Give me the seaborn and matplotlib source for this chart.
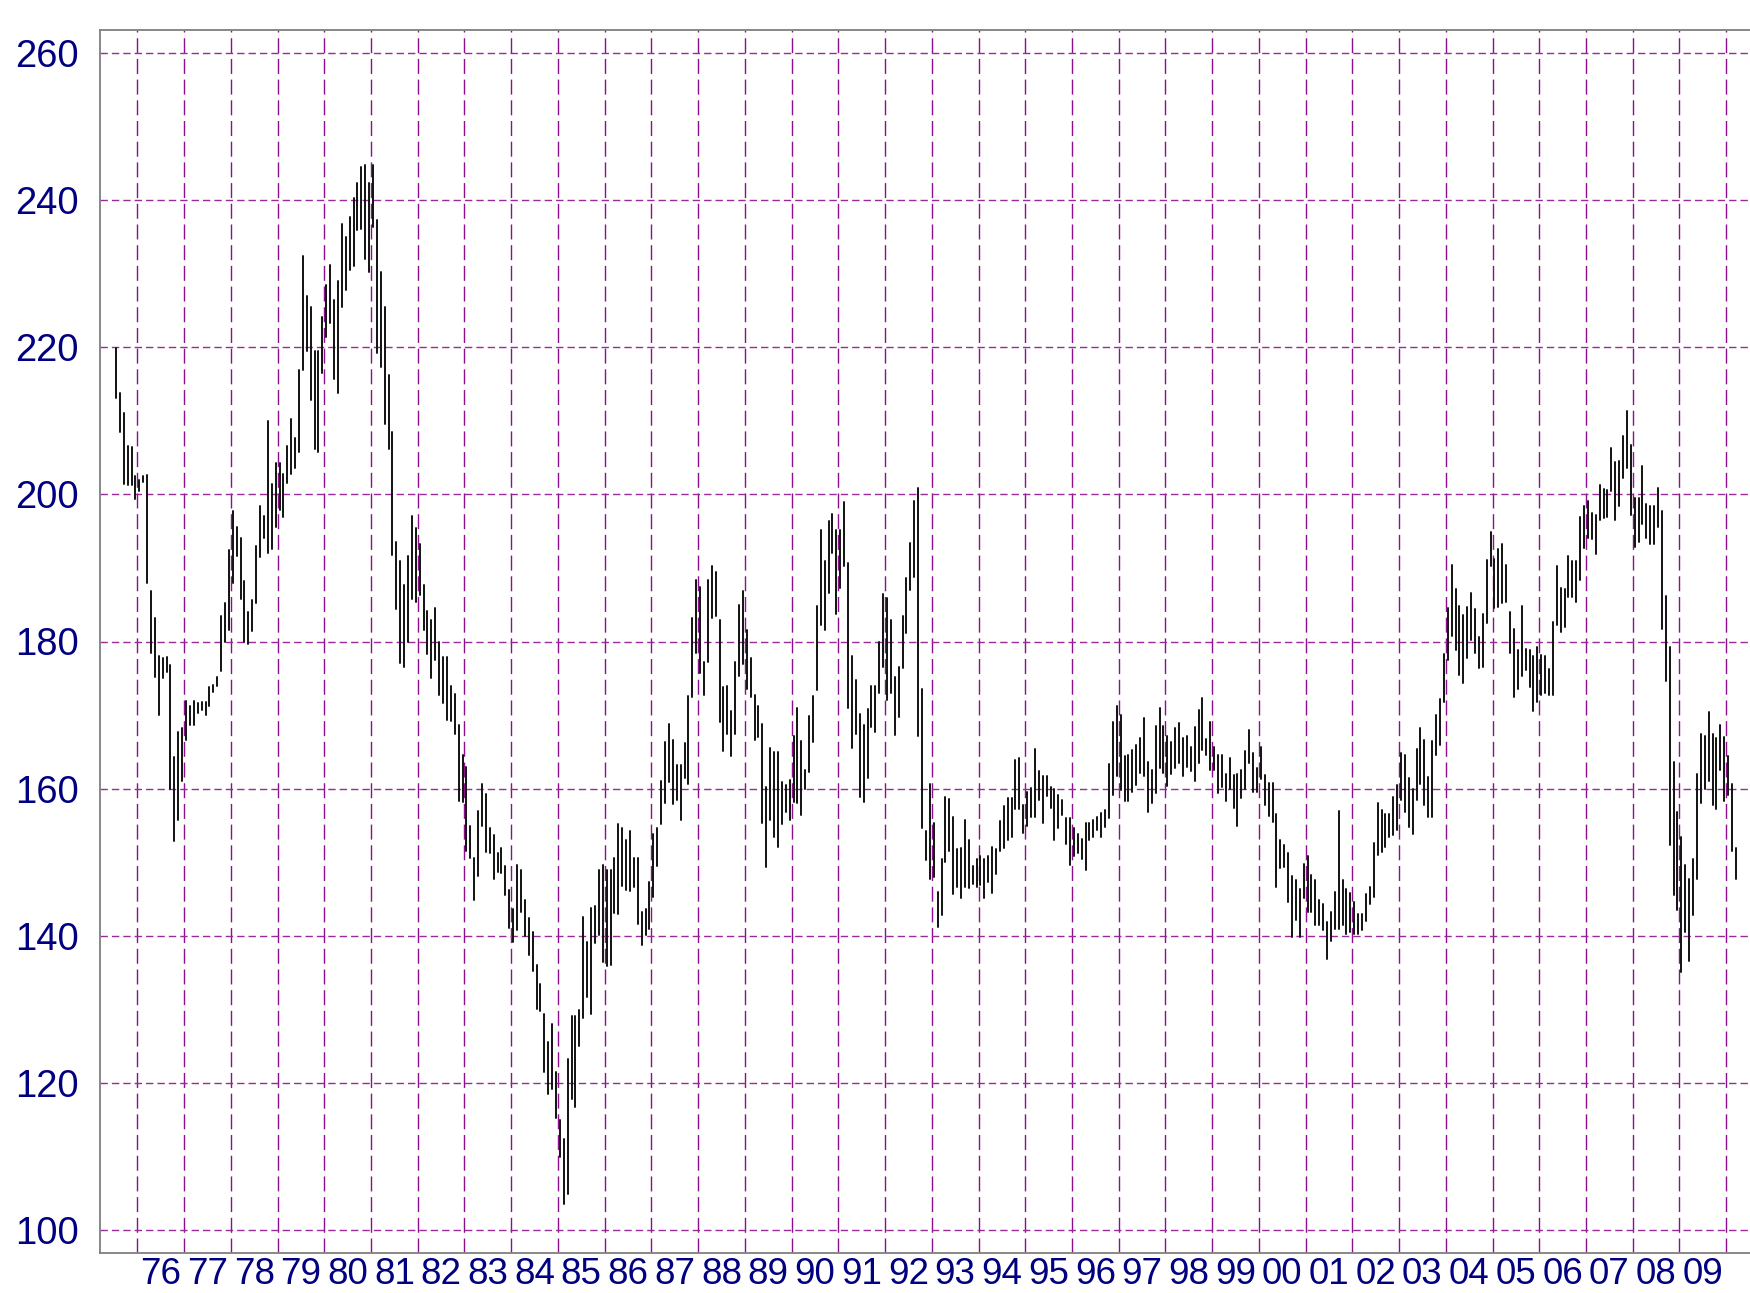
import pandas as pd
import matplotlib
matplotlib.use("Agg")
import matplotlib.pyplot as plt
import seaborn as sns

# monthly high / low bars, first bar is July 1975
start_month = "1975-07"

high = [
    219.8, 213.7, 211.1, 206.6, 206.4, 202.5,  # 1975 (Jul-Dec)
    201.9, 202.5, 202.6, 186.8, 183.2, 178.0, 177.8, 177.9, 176.8, 164.3, 167.7, 168.2,  # 1976
    171.9, 171.2, 171.9, 171.6, 171.8, 171.8, 173.8, 174.1, 175.2, 183.5, 185.2, 192.4,  # 1977
    197.7, 195.5, 194.0, 188.2, 184.0, 185.7, 193.0, 198.4, 197.1, 209.9, 201.4, 204.3,  # 1978
    204.3, 202.7, 206.5, 210.2, 207.6, 216.9, 232.4, 226.9, 225.5, 219.4, 219.4, 224.1,  # 1979
    228.4, 231.1, 226.4, 229.0, 236.7, 235.0, 237.7, 240.2, 242.3, 244.5, 244.7, 242.3,  # 1980
    244.7, 237.3, 230.2, 225.4, 216.2, 208.5, 193.5, 190.9, 187.7, 191.6, 197.0, 195.4,  # 1981
    193.3, 187.7, 184.2, 182.9, 184.6, 180.0, 177.9, 177.9, 174.0, 172.9, 168.7, 164.6,  # 1982
    163.0, 155.0, 150.6, 157.0, 160.7, 159.3, 154.7, 153.7, 151.3, 152.0, 149.5, 146.2,  # 1983
    143.6, 149.6, 148.9, 144.9, 142.5, 140.6, 136.0, 133.5, 129.4, 125.6, 128.1, 121.5,  # 1984
    115.0, 112.4, 123.3, 129.1, 129.1, 130.0, 142.6, 139.2, 143.8, 144.1, 149.0, 149.7,  # 1985
    149.0, 149.0, 150.6, 155.2, 154.6, 153.0, 154.2, 150.6, 150.6, 143.2, 143.7, 147.4,  # 1986
    153.9, 154.6, 161.1, 166.3, 168.8, 166.6, 163.2, 163.2, 166.2, 172.6, 183.2, 188.3,  # 1987
    187.4, 177.2, 188.3, 190.3, 189.4, 182.9, 173.8, 174.0, 170.6, 177.2, 184.9, 186.8,  # 1988
    181.6, 177.7, 172.7, 171.2, 168.8, 160.2, 165.6, 165.0, 165.0, 160.9, 160.5, 161.2,  # 1989
    167.1, 170.9, 166.5, 162.6, 169.9, 172.6, 184.8, 195.1, 190.9, 196.3, 197.3, 195.2,  # 1990
    195.2, 198.9, 190.6, 178.0, 174.8, 170.2, 168.7, 170.8, 174.0, 173.9, 180.0, 186.4,  # 1991
    185.9, 182.9, 175.2, 176.6, 183.5, 188.6, 193.4, 199.1, 200.8, 173.6, 154.2, 160.7,  # 1992
    155.3, 146.0, 150.5, 158.9, 158.6, 156.2, 151.8, 151.9, 155.8, 153.0, 149.5, 150.5,  # 1993
    150.8, 150.5, 150.8, 152.1, 151.8, 155.6, 157.6, 158.7, 158.7, 163.9, 164.2, 157.8,  # 1994
    159.5, 160.1, 165.4, 162.4, 161.7, 161.7, 160.3, 159.9, 159.2, 158.5, 156.0, 156.0,  # 1995
    154.7, 153.8, 153.2, 155.3, 155.4, 155.8, 156.2, 156.7, 157.1, 163.3, 169.1, 171.3,  # 1996
    170.0, 164.5, 164.6, 165.3, 166.0, 166.9, 169.6, 163.7, 162.6, 168.5, 170.9, 168.5,  # 1997
    167.1, 166.4, 168.2, 168.9, 166.9, 167.1, 165.7, 168.4, 170.7, 172.3, 166.7, 169.1,  # 1998
    165.7, 164.6, 164.6, 162.0, 164.2, 161.8, 162.0, 162.6, 165.1, 168.0, 164.8, 162.8,  # 1999
    165.7, 161.9, 160.8, 160.8, 156.6, 153.1, 152.3, 151.3, 148.1, 147.6, 146.4, 149.8,  # 2000
    150.8, 148.3, 147.6, 144.9, 144.4, 141.9, 143.3, 146.0, 157.0, 147.6, 146.4, 145.8,  # 2001
    144.6, 143.0, 143.0, 145.7, 146.7, 152.6, 158.0, 157.1, 156.6, 156.6, 158.9, 160.5,  # 2002
    164.8, 164.6, 161.4, 159.9, 165.4, 168.3, 166.6, 161.6, 166.5, 170.0, 172.2, 178.3,  # 2003
    184.5, 190.4, 187.1, 184.8, 183.6, 184.7, 186.6, 184.4, 180.6, 183.8, 191.1, 194.9,  # 2004
    191.2, 192.5, 193.2, 190.4, 184.0, 181.7, 178.9, 184.8, 179.0, 178.9, 178.0, 179.3,  # 2005
    178.1, 178.0, 176.3, 182.6, 190.3, 187.3, 187.1, 191.6, 190.9, 191.0, 196.9, 198.4,  # 2006
    199.1, 197.5, 197.2, 201.2, 200.7, 200.6, 206.3, 204.4, 204.5, 207.9, 211.3, 206.7,  # 2007
    199.5, 199.5, 203.9, 198.7, 198.4, 198.4, 200.8, 197.7, 186.2, 179.2, 163.6, 156.8,  # 2008
    153.5, 149.7, 147.7, 150.5, 162.0, 167.4, 167.2, 170.4, 167.4, 166.9, 168.7, 167.0,  # 2009
    164.4, 160.6, 152.0,  # 2010 (Jan-Mar)
]

low = [
    213.1, 208.5, 201.4, 201.3, 201.3, 199.3,  # 1975
    200.5, 201.7, 187.9, 178.5, 175.2, 170.0, 175.0, 175.9, 160.0, 152.9, 155.7, 161.1,  # 1976
    166.6, 168.7, 168.7, 170.3, 170.7, 170.0, 171.2, 173.2, 173.9, 176.0, 179.9, 181.6,  # 1977
    187.9, 191.6, 185.8, 179.9, 179.6, 181.4, 185.2, 191.5, 194.0, 192.0, 192.5, 195.5,  # 1978
    197.8, 196.9, 201.5, 202.8, 203.5, 205.8, 216.9, 219.4, 212.8, 206.2, 205.8, 216.5,  # 1979
    221.4, 223.2, 215.7, 213.8, 225.5, 227.8, 230.5, 231.0, 235.9, 236.0, 232.0, 230.2,  # 1980
    236.3, 219.2, 217.3, 209.5, 206.2, 191.7, 184.4, 177.1, 176.5, 180.0, 185.8, 185.4,  # 1981
    186.3, 181.5, 178.3, 175.1, 177.5, 172.7, 171.6, 169.4, 169.2, 167.5, 158.3, 158.2,  # 1982
    151.6, 150.6, 144.9, 148.2, 155.0, 151.4, 151.3, 147.7, 148.7, 148.6, 145.5, 141.1,  # 1983
    139.2, 140.8, 143.3, 140.0, 137.4, 135.2, 130.1, 129.8, 121.5, 118.5, 119.2, 115.3,  # 1984
    110.0, 103.6, 105.0, 117.9, 116.8, 125.1, 128.8, 131.7, 129.4, 139.0, 140.2, 136.5,  # 1985
    135.9, 136.0, 143.1, 143.0, 146.8, 146.2, 146.1, 146.7, 141.6, 138.8, 140.2, 141.0,  # 1986
    145.3, 149.5, 155.2, 158.1, 160.9, 157.9, 158.5, 155.8, 161.4, 160.6, 172.4, 178.4,  # 1987
    175.7, 172.7, 177.2, 183.2, 183.5, 169.0, 165.1, 167.4, 164.5, 167.5, 175.3, 176.9,  # 1988
    173.6, 172.4, 166.6, 167.0, 155.4, 149.4, 155.7, 153.4, 152.1, 155.2, 156.9, 155.7,  # 1989
    158.2, 158.0, 156.4, 160.0, 162.3, 166.4, 173.4, 182.2, 181.5, 186.6, 192.0, 183.8,  # 1990
    187.2, 190.2, 170.9, 165.5, 167.5, 158.9, 158.2, 161.5, 168.4, 167.7, 173.0, 176.6,  # 1991
    172.1, 173.0, 167.3, 169.8, 176.4, 181.1, 187.0, 188.8, 167.2, 154.7, 150.3, 147.8,  # 1992
    148.0, 141.2, 142.8, 150.0, 151.6, 145.7, 146.6, 145.2, 146.7, 146.5, 147.1, 146.7,  # 1993
    146.9, 145.2, 147.3, 145.8, 148.4, 151.5, 151.9, 153.1, 153.5, 157.3, 157.2, 154.0,  # 1994
    154.9, 156.2, 156.2, 158.5, 155.3, 159.0, 157.4, 153.1, 154.7, 156.5, 152.5, 149.7,  # 1995
    150.9, 151.3, 150.4, 149.0, 153.0, 153.5, 154.4, 153.4, 154.8, 156.0, 159.2, 161.7,  # 1996
    159.8, 158.4, 158.3, 159.5, 160.5, 162.1, 161.7, 156.9, 158.0, 159.4, 162.8, 162.1,  # 1997
    160.4, 162.0, 162.8, 163.5, 161.7, 163.0, 162.4, 161.0, 163.5, 165.3, 164.6, 162.6,  # 1998
    162.6, 159.4, 160.3, 158.4, 160.0, 157.4, 154.9, 158.8, 160.0, 163.5, 159.6, 159.6,  # 1999
    161.3, 157.8, 156.3, 155.5, 146.7, 149.2, 149.4, 144.6, 139.9, 142.2, 139.9, 145.1,  # 2000
    143.3, 143.3, 141.5, 141.5, 140.8, 136.9, 139.3, 141.0, 141.0, 141.5, 140.3, 140.5,  # 2001
    140.3, 140.3, 140.8, 142.0, 144.4, 145.3, 151.0, 151.4, 152.1, 153.5, 153.7, 154.4,  # 2002
    158.5, 156.9, 154.8, 153.9, 158.5, 160.7, 157.8, 156.2, 156.2, 164.6, 165.9, 171.8,  # 2003
    177.5, 180.8, 178.9, 175.5, 174.4, 177.7, 180.2, 178.4, 176.4, 176.6, 182.5, 190.2,  # 2004
    184.6, 184.7, 185.2, 185.3, 178.5, 172.4, 173.5, 175.3, 176.1, 173.8, 170.6, 171.8,  # 2005
    172.7, 173.0, 172.8, 172.7, 182.3, 181.3, 182.0, 186.0, 186.0, 185.3, 188.4, 192.7,  # 2006
    194.1, 193.9, 191.9, 196.5, 196.8, 196.9, 200.5, 196.5, 198.4, 202.2, 203.5, 197.2,  # 2007
    192.8, 193.5, 196.0, 194.1, 193.3, 193.3, 195.5, 181.7, 174.6, 152.4, 145.5, 143.5,  # 2008
    135.1, 140.6, 136.6, 142.9, 147.7, 158.1, 159.9, 161.0, 157.8, 157.2, 162.6, 158.3,  # 2009
    159.1, 151.6, 147.8,  # 2010
]

year_edges = list(range(1976, 2011))
year_labels = [f"{y % 100:02d}" for y in range(1976, 2010)]
y_ticks = [100, 120, 140, 160, 180, 200, 220, 240, 260]

sns.set_style("white")
plt.rcParams["font.family"] = ["Liberation Sans", "DejaVu Sans"]
plt.rcParams["lines.scale_dashes"] = False

months = pd.date_range(start_month, periods=len(high), freq="MS")
t = months.year + (months.month - 0.5) / 12
df = pd.DataFrame({"t": t, "bar": range(len(high)), "low": low, "high": high})
long = df.melt(id_vars=["t", "bar"], value_vars=["low", "high"], value_name="price")

fig = plt.figure(figsize=(17.5, 12.93), dpi=100)
ax = fig.add_axes([100 / 1750, 40 / 1293, 1 - 100 / 1750, 1223 / 1293])

sns.lineplot(data=long, x="t", y="price", units="bar", estimator=None,
             color="#111111", lw=1.4, sort=False, legend=False, ax=ax)

ax.set_xlim(1975.20, 2010.51)
ax.set_ylim(96.94, 263.06)
ax.set_xlabel("")
ax.set_ylabel("")

ax.set_yticks(y_ticks)
ax.set_yticklabels([str(v) for v in y_ticks])
ax.set_xticks(year_edges)
ax.set_xticklabels([])
ax.set_xticks([y + 0.5 for y in range(1976, 2010)], minor=True)
ax.set_xticklabels(year_labels, minor=True)

ax.grid(True, axis="y", which="major", color="#9a2a9a", lw=1.0, linestyle=(0, (5.3, 2.9)))
ax.grid(True, axis="x", which="major", color="#8e0f8e", lw=1.0, linestyle=(0, (10.8, 4.1)))

ax.tick_params(axis="y", which="major", direction="inout", length=14.4, width=1.0,
               color="black", pad=8, labelsize=27.5, labelcolor="#000080")
ax.tick_params(axis="x", which="major", direction="inout", length=14.4, width=1.0,
               color="black", labelbottom=False)
ax.tick_params(axis="x", which="minor", length=0, pad=3, labelsize=26.5,
               labelcolor="#000080")

for side in ["left", "bottom", "top"]:
    ax.spines[side].set_color("#7f7f7f")
    ax.spines[side].set_linewidth(1.3)
ax.spines["right"].set_visible(False)

fig.savefig("out.png", dpi=100)
